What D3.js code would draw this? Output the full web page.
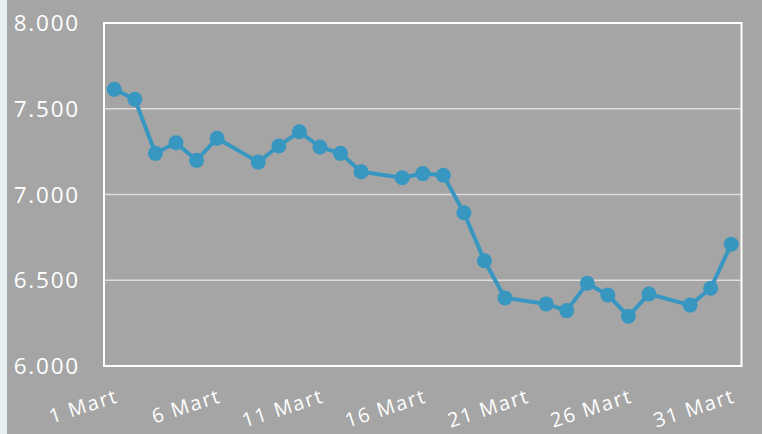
<!DOCTYPE html>
<html><head><meta charset="utf-8">
<script src="https://cdn.jsdelivr.net/npm/d3@7"></script>
<style>html,body{margin:0;padding:0;background:#a5a5a5;}svg{display:block;}</style>
</head><body>
<script>
const days = [1,2,3,4,5,6,8,9,10,11,12,13,15,16,17,18,19,20,22,23,24,25,26,27,29,30,31];
const values = [7613,7555,7240,7302,7199,7328,7189,7283,7366,7277,7240,7133,7098,7122,7112,6894,6614,6397,6362,6323,6482,6414,6290,6420,6355,6453,6710];
const xTickDays = [1,6,11,16,21,26,31];
const xTickLabels = ["1 Mart","6 Mart","11 Mart","16 Mart","21 Mart","26 Mart","31 Mart"];
const yTicks = [6000,6500,7000,7500,8000];

const W = 762, H = 434;
const L = 104, R = 741.5, T = 23, B = 366;
const svg = d3.select("body").append("svg").attr("width", W).attr("height", H);
svg.append("rect").attr("width", W).attr("height", H).attr("fill", "#a5a5a5");
svg.append("rect").attr("x", 0).attr("y", 0).attr("width", 7).attr("height", H).attr("fill", "#e7eff1");

const x = d3.scaleLinear().domain([0.5, 31.5]).range([L, R]);
const y = d3.scaleLinear().domain([6000, 8000]).range([B, T]);
const fmt = d3.formatLocale({decimal: ",", thousands: ".", grouping: [3], currency: ["", ""]}).format(",.0f");

// gridlines
svg.append("g").selectAll("line").data(yTicks.slice(1, -1)).join("line")
  .attr("x1", L).attr("x2", R).attr("y1", d => y(d)).attr("y2", d => y(d))
  .attr("stroke", "#dcdcdc").attr("stroke-width", 1.5);
// frame
svg.append("rect").attr("x", L).attr("y", T).attr("width", R - L).attr("height", B - T)
  .attr("fill", "none").attr("stroke", "#ffffff").attr("stroke-width", 2);

// y labels
svg.append("g").selectAll("text").data(yTicks).join("text")
  .attr("x", 80).attr("y", d => y(d)).attr("dy", "0.36em")
  .attr("text-anchor", "end").attr("fill", "#ffffff")
  .style("font-family", "'Open Sans', sans-serif").style("font-size", "22.5px")
  .style("letter-spacing", "1.8px")
  .text(d => fmt(d));

// x labels
svg.append("g").selectAll("text").data(xTickDays).join("text")
  .attr("transform", d => `translate(${x(d) + 3},${395}) rotate(-18)`)
  .attr("dy", "0.35em")
  .attr("text-anchor", "end").attr("fill", "#ffffff")
  .style("font-family", "'Open Sans', sans-serif").style("font-size", "20px")
  .style("letter-spacing", "1.7px")
  .text((d, i) => xTickLabels[i]);

const pts = days.map((d, i) => [d, values[i]]);
svg.append("path").datum(pts)
  .attr("d", d3.line().x(d => x(d[0])).y(d => y(d[1])))
  .attr("fill", "none").attr("stroke", "#3797c1").attr("stroke-width", 4)
  .attr("stroke-linejoin", "round");
svg.append("g").selectAll("circle").data(pts).join("circle")
  .attr("cx", d => x(d[0])).attr("cy", d => y(d[1])).attr("r", 7.5)
  .attr("fill", "#3797c1");
</script>
</body></html>
